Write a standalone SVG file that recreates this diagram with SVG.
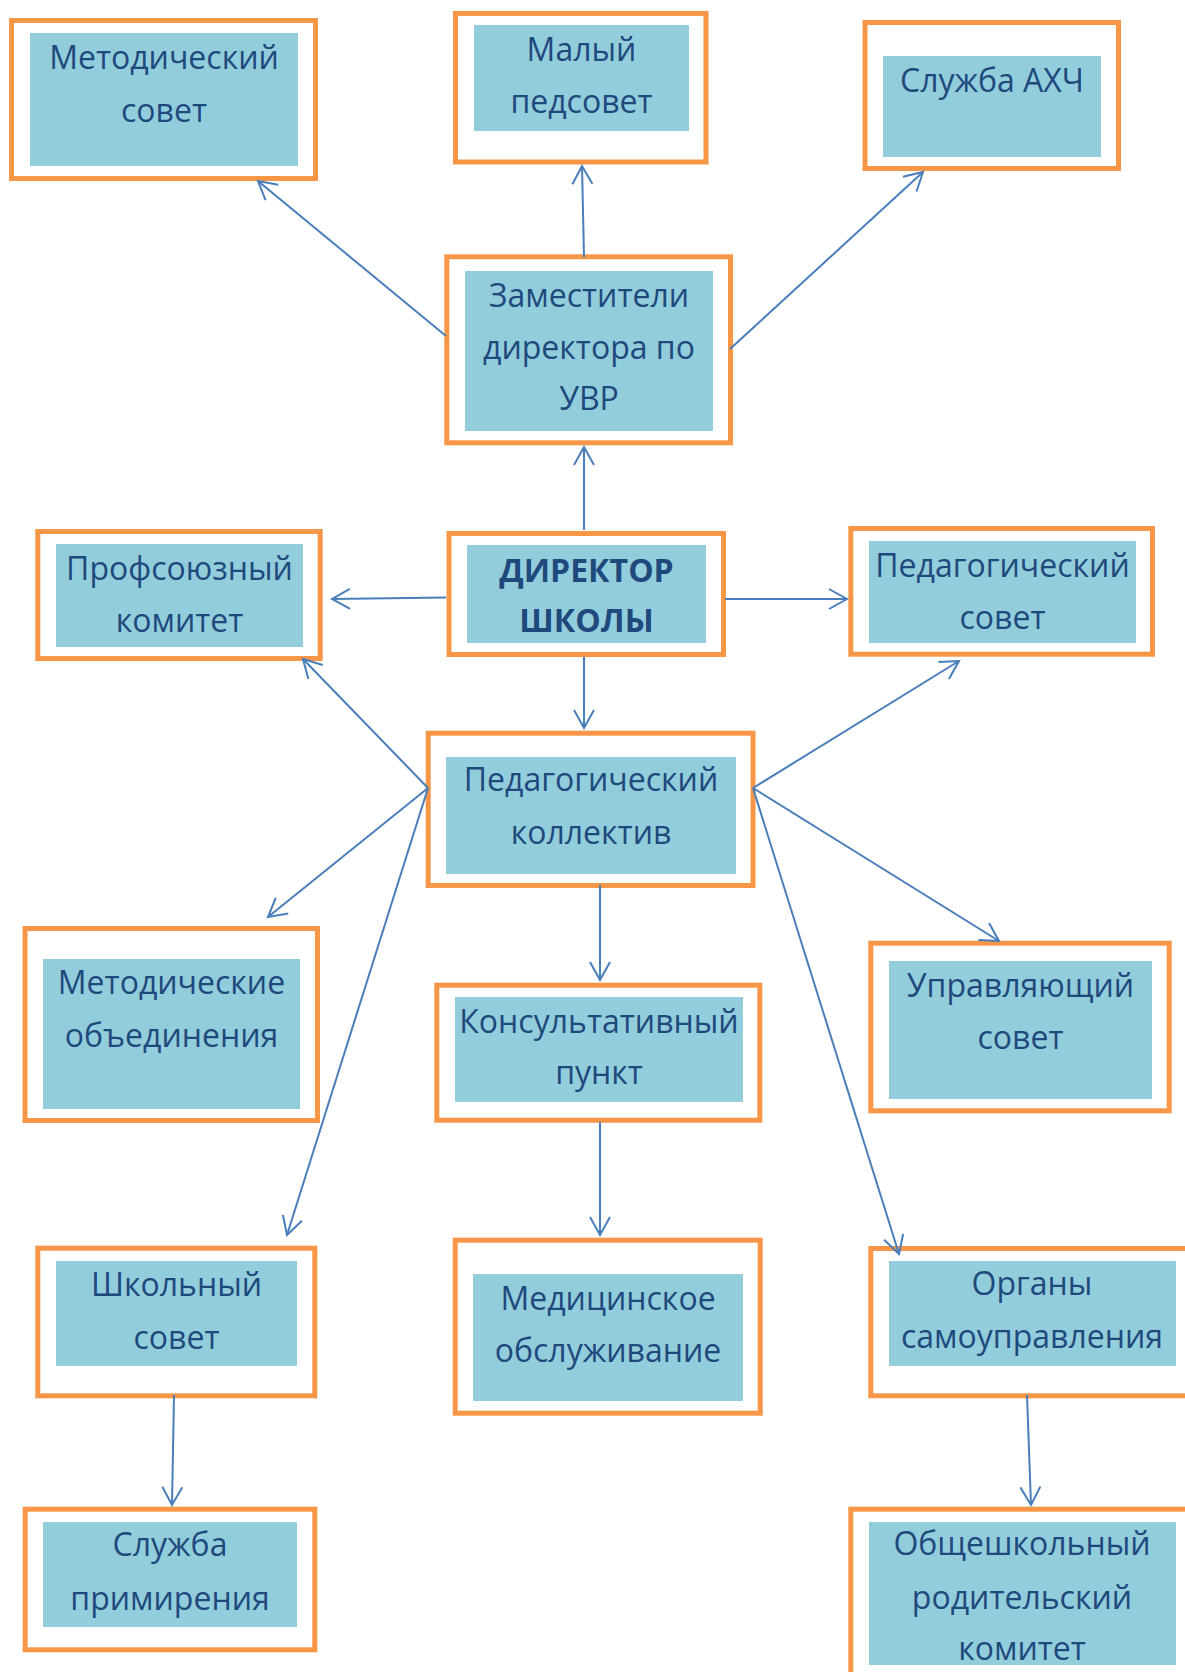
<svg xmlns="http://www.w3.org/2000/svg" width="1185" height="1672" viewBox="0 0 1185 1672">
<style>
.o{fill:#fff;stroke:#F79646;stroke-width:5}
.i{fill:#92CDDC}
.t{font-family:'Open Sans','Noto Sans',sans-serif;font-size:32px;fill:#1F497D;text-anchor:middle}
.b{font-weight:bold}
.c{fill:none;stroke:#4A7EBB;stroke-width:2;marker-end:url(#ar)}
</style>
<defs>
<marker id="ar" markerUnits="userSpaceOnUse" viewBox="-20 -12 22 24" refX="0" refY="0" markerWidth="22" markerHeight="24" orient="auto" overflow="visible">
<path d="M-18,-10 L0,0 L-18,10" fill="none" stroke="#4A7EBB" stroke-width="2"/>
</marker>
</defs>
<rect width="1185" height="1672" fill="#fff"/>
<g id="n1"><rect class="o" x="11.5" y="20.5" width="304" height="158"/><rect class="i" x="30" y="33" width="268" height="133"/><text class="t" x="164" y="69">Методический</text><text class="t" x="164" y="122">совет</text></g>
<g id="n2"><rect class="o" x="455.5" y="13.5" width="250.5" height="148.5"/><rect class="i" x="474" y="25" width="215" height="106"/><text class="t" x="581.5" y="61">Малый</text><text class="t" x="581.5" y="113">педсовет</text></g>
<g id="n3"><rect class="o" x="865" y="22.5" width="253.5" height="146"/><rect class="i" x="883" y="56" width="218" height="101"/><text class="t" x="992" y="91.5">Служба АХЧ</text></g>
<g id="n4"><rect class="o" x="446.8" y="256.8" width="283.7" height="186"/><rect class="i" x="465" y="271" width="248" height="160"/><text class="t" x="589" y="307">Заместители</text><text class="t" x="589" y="359">директора по</text><text class="t" x="589" y="410">УВР</text></g>
<g id="n5"><rect class="o" x="449" y="533.5" width="274.5" height="121"/><rect class="i" x="467" y="545" width="239" height="98"/><text class="t b" x="586.5" y="581.5">ДИРЕКТОР</text><text class="t b" x="586.5" y="632">ШКОЛЫ</text></g>
<g id="n6"><rect class="o" x="37.8" y="531.5" width="282.4" height="127"/><rect class="i" x="56" y="544" width="247" height="103"/><text class="t" x="179.5" y="580">Профсоюзный</text><text class="t" x="179.5" y="631.5">комитет</text></g>
<g id="n7"><rect class="o" x="850.8" y="528.5" width="301.7" height="125.7"/><rect class="i" x="869" y="541" width="267" height="102"/><text class="t" x="1002.5" y="576.5">Педагогический</text><text class="t" x="1002.5" y="629">совет</text></g>
<g id="n8"><rect class="o" x="428.2" y="733.2" width="324.8" height="152.3"/><rect class="i" x="446" y="757" width="290" height="117"/><text class="t" x="591" y="791">Педагогический</text><text class="t" x="591" y="844">коллектив</text></g>
<g id="n9"><rect class="o" x="436.8" y="985.2" width="323" height="135"/><rect class="i" x="455" y="997" width="288" height="105"/><text class="t" x="599" y="1032.5">Консультативный</text><text class="t" x="599" y="1084">пункт</text></g>
<g id="n10"><rect class="o" x="25" y="928.5" width="292.5" height="192"/><rect class="i" x="43" y="959" width="257" height="150"/><text class="t" x="171.5" y="994">Методические</text><text class="t" x="171.5" y="1046.5">объединения</text></g>
<g id="n11"><rect class="o" x="870.8" y="943.2" width="298.4" height="167.6"/><rect class="i" x="889" y="961" width="263" height="138"/><text class="t" x="1020.5" y="997">Управляющий</text><text class="t" x="1020.5" y="1049">совет</text></g>
<g id="n12"><rect class="o" x="37.8" y="1248.2" width="277" height="147.6"/><rect class="i" x="56" y="1261" width="241" height="105"/><text class="t" x="176.5" y="1295.5">Школьный</text><text class="t" x="176.5" y="1349">совет</text></g>
<g id="n13"><rect class="o" x="25.2" y="1509.2" width="289.6" height="140.6"/><rect class="i" x="43" y="1522" width="254" height="105"/><text class="t" x="170" y="1555.5">Служба</text><text class="t" x="170" y="1610">примирения</text></g>
<g id="n14"><rect class="o" x="455.2" y="1240.2" width="305" height="173"/><rect class="i" x="473" y="1274" width="270" height="127"/><text class="t" x="608" y="1310">Медицинское</text><text class="t" x="608" y="1361.5">обслуживание</text></g>
<g id="n15"><rect class="o" x="870.8" y="1248.5" width="330" height="147.3"/><rect class="i" x="889" y="1261" width="287" height="105"/><text class="t" x="1032" y="1295">Органы</text><text class="t" x="1032" y="1348">самоуправления</text></g>
<g id="n16"><rect class="o" x="850.8" y="1509.2" width="350" height="180"/><rect class="i" x="869" y="1522" width="307" height="143"/><text class="t" x="1022" y="1555">Общешкольный</text><text class="t" x="1022" y="1609">родительский</text><text class="t" x="1022" y="1660">комитет</text></g>
<g id="connectors">
<path class="c" d="M446,336 L258,181"/>
<path class="c" d="M584,257 L582,166"/>
<path class="c" d="M730,349 L923,172"/>
<path class="c" d="M584,530 L584,447"/>
<path class="c" d="M446,597.5 L332,599"/>
<path class="c" d="M725,599 L847,599"/>
<path class="c" d="M584,657 L584,728"/>
<path class="c" d="M428,788 L303,659"/>
<path class="c" d="M428,788 L268,917"/>
<path class="c" d="M428,788 L287,1235"/>
<path class="c" d="M753,788 L959,661"/>
<path class="c" d="M753,788 L999,941"/>
<path class="c" d="M753,788 L899,1254"/>
<path class="c" d="M600,885 L600,980"/>
<path class="c" d="M600,1122 L600,1235"/>
<path class="c" d="M174,1395 L172,1505"/>
<path class="c" d="M1027,1395 L1031,1505"/>
</g>
</svg>
